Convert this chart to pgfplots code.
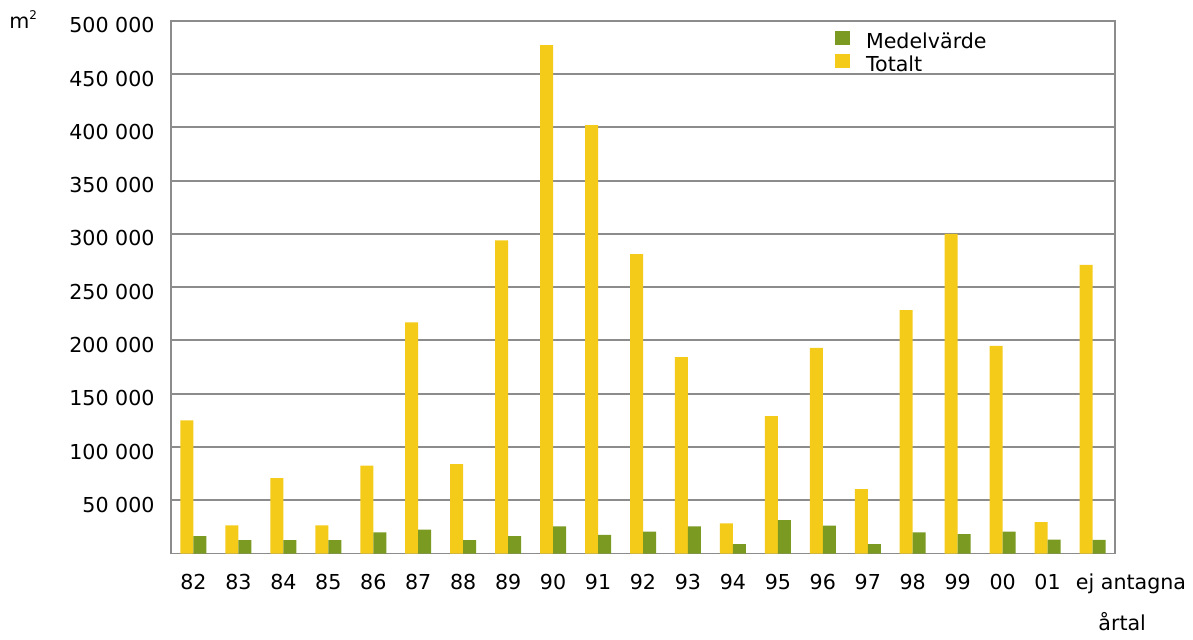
\documentclass[border=0pt]{standalone}
\usepackage{fontspec}
\setmainfont{DejaVu Sans}
\usepackage{pgfplots}
\usepackage{pgfplotstable}
\pgfplotsset{compat=1.18}
\definecolor{ygold}{RGB}{245,203,26}
\definecolor{ogreen}{RGB}{122,154,34}
\definecolor{gridgray}{RGB}{140,140,140}

\pgfplotstableread{
x total medel
0  125000 16500
1  26500  12700
2  71000  12700
3  26500  12700
4  82500  19900
5  217000 22500
6  84000  12700
7  294000 16500
8  477000 25600
9  402000 17700
10 281000 20600
11 184500 25600
12 28500  8900
13 129000 31600
14 193000 26300
15 60500  8900
16 228500 19900
17 300000 18400
18 195000 20600
19 29500  13300
20 271000 13000
}\datatable

\begin{document}
\begin{tikzpicture}[font=\fontsize{10.3}{12}\selectfont]
\begin{axis}[
  scale only axis, width=472pt, height=266.5pt,
  ybar=0pt, bar width=6.5pt,
  xmin=-0.5, xmax=20.5, ymin=0, ymax=500000,
  xtick={0,...,20},
  xticklabels={82,83,84,85,86,87,88,89,90,91,92,93,94,95,96,97,98,99,00,01,{\hspace*{38.5pt}ej antagna}},
  ytick={50000,100000,150000,200000,250000,300000,350000,400000,450000,500000},
  yticklabels={50 000,100 000,150 000,200 000,250 000,300 000,350 000,400 000,450 000,500 000},
  scaled y ticks=false,
  ymajorgrids, major grid style={draw=gridgray, line width=1pt},
  axis line style={draw=gridgray, line width=0.8pt},
  major tick length=0pt, tick style={draw=none},
  xticklabel style={anchor=base, yshift=-17.75pt},
  yticklabel style={anchor=east, xshift=-4.7pt, yshift=-2.3pt},
  /pgf/number format/assume math mode=true,
  reverse legend,
  legend cell align=left,
  legend style={at={(axis description cs:0.703,0.982)}, anchor=north west,
    draw=none, fill=none, inner sep=0pt, row sep=1.5pt,
    nodes={inner ysep=0pt, inner xsep=2pt},
    /tikz/every odd column/.append style={column sep=6pt}},
]
\addplot[fill=ygold, draw=none,
  legend image code/.code={\fill[ygold] (0pt,-1.5pt) rectangle (7.5pt,5.5pt);}]
  table[x=x, y=total] {\datatable};
\addlegendentry{Totalt}
\addplot[fill=ogreen, draw=none,
  legend image code/.code={\fill[ogreen] (0pt,-1.5pt) rectangle (7.5pt,5.5pt);}]
  table[x=x, y=medel] {\datatable};
\addlegendentry{Medelvärde}
\end{axis}
\node[anchor=base west, inner sep=0pt] at ([xshift=-81pt,yshift=-4.15pt]current axis.north west) {m\raisebox{0.45em}{\fontsize{6}{7}\selectfont 2}};
\node[anchor=base west, inner sep=0pt] at ([xshift=463.5pt,yshift=-38.5pt]current axis.south west) {årtal};
\pgfresetboundingbox
\path ([xshift=-85.5pt,yshift=-43pt]current axis.south west) rectangle ([xshift=39pt,yshift=10.35pt]current axis.north east);
\end{tikzpicture}
\end{document}
